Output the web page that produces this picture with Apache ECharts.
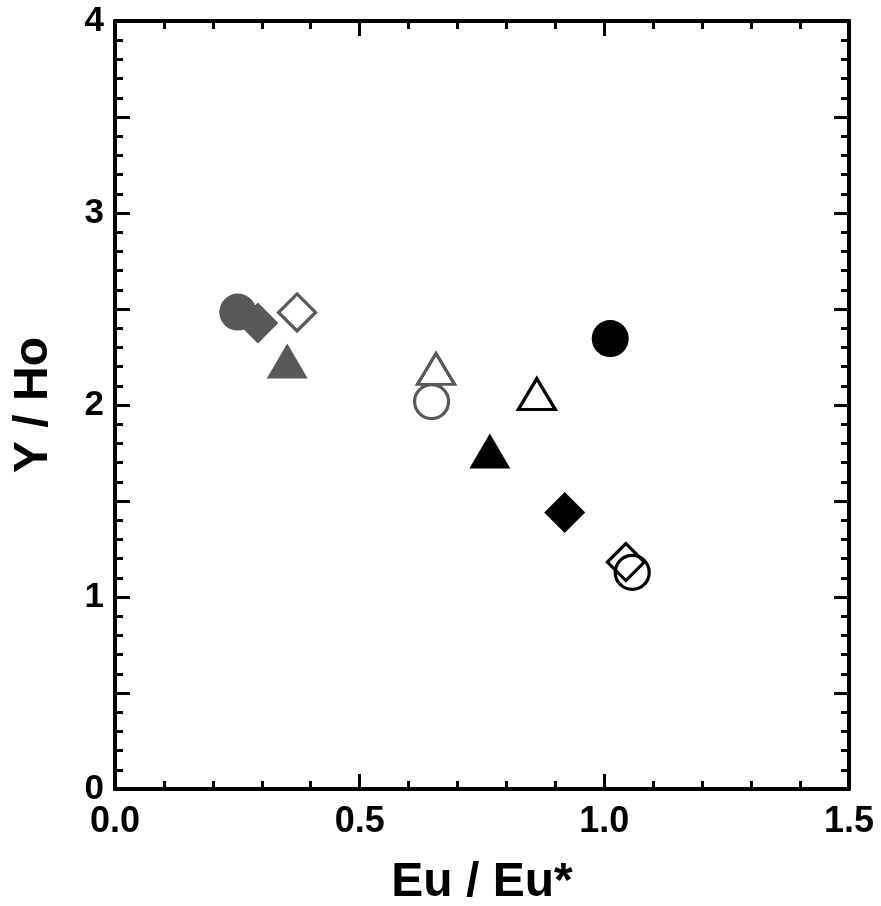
<!DOCTYPE html>
<html>
<head>
<meta charset="utf-8">
<title>Y/Ho vs Eu/Eu*</title>
<script src="https://cdn.jsdelivr.net/npm/echarts@6/dist/echarts.min.js"></script>
<style>
  html, body { margin: 0; padding: 0; background: #fff; overflow: hidden; }
  #chart { width: 881px; height: 906px; }
</style>
</head>
<body>
<div id="chart"></div>
<script>
// Sample values: europium anomaly against Y/Ho ratio
const euEuStar = [0.251, 0.292, 0.352, 0.372, 0.656, 0.647, 0.862, 0.766, 1.012, 0.919, 1.044, 1.057];
const yHo      = [2.484, 2.427, 2.229, 2.482, 2.188, 2.018, 2.057, 1.760, 2.346, 1.440, 1.182, 1.128];

// Marker kind for each sample, in the same order as the values above
const markerShape = ['circle', 'diamond', 'triangle', 'diamond', 'triangle', 'circle',
                     'triangle', 'triangle', 'circle', 'diamond', 'diamond', 'circle'];
const markerTone  = ['gray', 'gray', 'gray', 'gray', 'gray', 'gray',
                     'black', 'black', 'black', 'black', 'black', 'black'];
const markerFill  = [true, true, true, false, false, false,
                     false, true, true, true, false, false];

const xTicks = [0, 0.5, 1.0, 1.5];
const yTicks = [0, 1, 2, 3, 4];

const FONT = "'Liberation Sans', Arial, sans-serif";
const TONES = { gray: '#58585a', black: '#000000' };

function symbolSizeFor(shape, filled) {
  if (shape === 'circle') return filled ? 37 : 34;
  if (shape === 'diamond') return filled ? 41 : 37;
  return filled ? [41, 35] : [37, 31];
}

const series = euEuStar.map((x, i) => {
  const col = TONES[markerTone[i]];
  const filled = markerFill[i];
  return {
    type: 'scatter',
    name: 'sample ' + (i + 1),
    symbol: markerShape[i],
    symbolSize: symbolSizeFor(markerShape[i], filled),
    z: 2 + i,
    itemStyle: filled
      ? { color: col, borderWidth: 0, opacity: 1 }
      : { color: 'rgba(255,255,255,0)', borderColor: col, borderWidth: 3.2, opacity: 1 },
    emphasis: { disabled: true },
    data: [[x, yHo[i]]]
  };
});

const axisLine = { show: true, onZero: false, lineStyle: { color: '#000', width: 4 } };
const majorTick = { show: true, inside: true, length: 15, lineStyle: { color: '#000', width: 3 } };
const minorTick = { show: true, splitNumber: 5, length: 8, lineStyle: { color: '#000', width: 3 } };

const xMin = xTicks[0], xMax = xTicks[xTicks.length - 1];
const yMin = yTicks[0], yMax = yTicks[yTicks.length - 1];

const option = {
  animation: false,
  backgroundColor: '#fff',
  grid: {
    left: 115, top: 21, width: 734, height: 768,
    containLabel: false, outerBoundsMode: 'none'
  },
  xAxis: [
    {
      type: 'value', position: 'bottom', min: xMin, max: xMax, interval: xTicks[1] - xTicks[0],
      axisLine, axisTick: majorTick, minorTick, splitLine: { show: false },
      axisLabel: {
        margin: 15, color: '#000', fontFamily: FONT, fontWeight: 'bold', fontSize: 36,
        formatter: v => v.toFixed(1)
      },
      name: 'Eu / Eu*', nameLocation: 'middle', nameGap: 70,
      nameTextStyle: { color: '#000', fontFamily: FONT, fontWeight: 'bold', fontSize: 48 }
    },
    {
      type: 'value', position: 'top', min: xMin, max: xMax, interval: xTicks[1] - xTicks[0],
      axisLine, axisTick: majorTick, minorTick, splitLine: { show: false },
      axisLabel: { show: false }
    }
  ],
  yAxis: [
    {
      type: 'value', position: 'left', min: yMin, max: yMax, interval: 0.5,
      axisLine, axisTick: majorTick, minorTick, splitLine: { show: false },
      axisLabel: {
        margin: 11, color: '#000', fontFamily: FONT, fontWeight: 'bold', fontSize: 35,
        formatter: v => (yTicks.indexOf(v) >= 0 ? String(v) : '')
      },
      name: 'Y / Ho', nameLocation: 'middle', nameGap: 57, nameRotate: 90,
      nameTextStyle: { color: '#000', fontFamily: FONT, fontWeight: 'bold', fontSize: 48 }
    },
    {
      type: 'value', position: 'right', min: yMin, max: yMax, interval: 0.5,
      axisLine, axisTick: majorTick, minorTick, splitLine: { show: false },
      axisLabel: { show: false }
    }
  ],
  series
};

const chart = echarts.init(document.getElementById('chart'), null, { renderer: 'canvas' });
chart.setOption(option);
</script>
</body>
</html>
